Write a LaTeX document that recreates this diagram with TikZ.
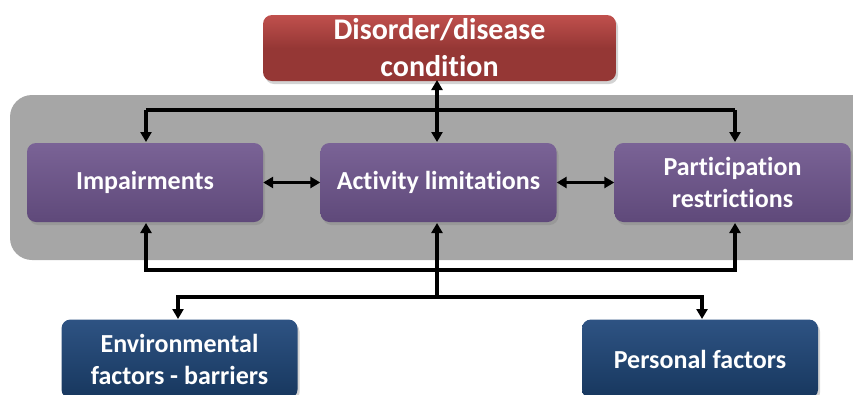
\documentclass[tikz,border=0pt]{standalone}
\usepackage{fontspec}
\setmainfont[RawFeature=-liga]{Carlito}
\usetikzlibrary{arrows.meta,shadows}
\definecolor{redbox}{HTML}{953735}
\definecolor{redtop}{HTML}{C0504D}
\definecolor{purplebox}{HTML}{5F497A}
\definecolor{purpletop}{HTML}{7A6396}
\definecolor{bluebox}{HTML}{17375E}
\definecolor{bluetop}{HTML}{2E5383}
\definecolor{panelgray}{HTML}{A6A6A6}
\tikzset{
  card/.style={rounded corners=9pt, minimum width=236pt, minimum height=79pt,
    align=center, text=white, inner sep=0pt, font=\bfseries\fontsize{26}{32}\selectfont,
    drop shadow={shadow xshift=2pt, shadow yshift=-3pt, opacity=0.35}},
  redcard/.style={card, top color=redtop, bottom color=redbox, middle color=redbox,
    minimum width=353pt, minimum height=66pt, font=\bfseries\fontsize{30}{37}\selectfont},
  purplecard/.style={card, top color=purpletop, bottom color=purplebox},
  bluecard/.style={card, top color=bluetop, bottom color=bluebox},
  tip/.style={Triangle[length=10pt,width=11pt]},
  link/.style={line width=3.5pt, -{Triangle[length=10pt,width=11pt]}},
  duplink/.style={line width=3.5pt, {Triangle[length=10pt,width=11pt]}-{Triangle[length=10pt,width=11pt]}},
  wire/.style={line width=3.5pt}
}
\begin{document}
\begin{tikzpicture}[x=1pt,y=-1pt]
\useasboundingbox (0,0) rectangle (853,394);
\clip (0,0) rectangle (853,394);

% grey band holding the three middle components
\fill[panelgray, rounded corners=22pt] (10,95) rectangle (880,260);

% boxes
\node[redcard] (dis) at (439.5,48) {Disorder/disease\\condition};
\node[purplecard] (imp) at (145,182.5) {Impairments};
\node[purplecard] (act) at (438.5,182.5) {Activity limitations};
\node[purplecard] (par) at (732.5,182.5) {Participation\\restrictions};
\node[bluecard] (env) at (179.5,359) {Environmental\\factors - barriers};
\node[bluecard] (per) at (700,359) {Personal factors};

% disorder <-> activity, and the upper distribution bar
\draw[duplink] (437,80) -- (437,142);
\draw[wire] (146,110) -- (735,110);
\draw[link] (146,110) -- (146,142);
\draw[link] (735,110) -- (735,142);

% side arrows between the components
\draw[duplink] (imp.east) -- (act.west);
\draw[duplink] (act.east) -- (par.west);

% lower collecting bar with arrows up into the components
\draw[wire] (146,270) -- (735,270);
\draw[link] (146,271.75) -- (146,223);
\draw[link] (437,271.75) -- (437,223);
\draw[link] (735,271.75) -- (735,223);

% contextual factors
\draw[wire] (437,270) -- (437,297);
\draw[wire] (178,297) -- (702,297);
\draw[link] (178,295.25) -- (178,319);
\draw[link] (702,295.25) -- (702,319);
\end{tikzpicture}
\end{document}
